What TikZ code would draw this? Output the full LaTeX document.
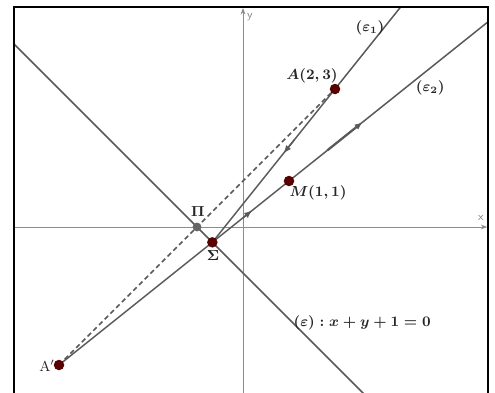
\documentclass[tikz,border=0pt]{standalone}
\usetikzlibrary{arrows.meta,calc}
\begin{document}
\begin{tikzpicture}[x=1cm,y=1cm,
  ln/.style={draw=black!65, line width=0.9pt},
  ax/.style={draw=black!45, line width=0.5pt},
  pt/.style={circle, fill=red!35!black, inner sep=0pt, minimum size=6.5pt},
  gpt/.style={circle, fill=black!60, inner sep=0pt, minimum size=5.5pt},
  lab/.style={font=\small\boldmath, text=black!85, inner sep=1pt},
  axlab/.style={font=\scriptsize\sffamily, text=black!50, inner sep=0pt},
  mid/.style={ln, -{Latex[length=5pt,width=4pt]}}]
\useasboundingbox (-5.283,-3.587) rectangle (5.478,4.935);
\coordinate (A) at (2,3);
\coordinate (M) at (1,1);
\coordinate (S) at (-0.6667,-0.3333);
\coordinate (Ap) at (-4,-3);
\coordinate (P) at (-1,0);
\coordinate (FL) at (-4.978,-3.6);
\coordinate (FR) at (5.326,4.783);
\begin{scope}
\clip (FL) rectangle (FR);
\draw[ax,-{Stealth[length=4pt,width=3pt]}] (-5,0) coordinate (xl) -- (5.31,0) coordinate (xr);
\draw[ax,-{Stealth[length=4pt,width=3pt]}] (0,-3.6) coordinate (yb) -- (0,4.76) coordinate (yt);
\draw[ln] (-5,4) coordinate (e1) -- (3,-4) coordinate (e2);
\draw[ln] (S) -- ($(S)!3!(A)$);
\draw[ln] (S) -- ($(S)!4!(M)$);
\draw[ln] (Ap) -- (S);
\draw[ln, dashed, dash pattern=on 3pt off 2pt] (Ap) -- (A);
\draw[mid] ($(A)!0.33!(S)$) -- ($(A)!0.42!(S)$);
\draw[mid] ($(S)!0.40!(M)$) -- ($(S)!0.52!(M)$);
\draw[ln, line width=1.4pt, -{Latex[length=5pt,width=4pt]}] ($(S)!1.5!(M)$) -- ($(S)!1.96!(M)$);
\end{scope}
\draw[line width=1.3pt] (FL) |- (FR) -- (FR |- FL);
\node[pt] (nA) at (A) {};
\node[pt] (nM) at (M) {};
\node[pt] (nS) at (S) {};
\node[pt] (nAp) at (Ap) {};
\node[gpt] (nP) at (P) {};
\node[lab] (lA) at (1.5,3.28) {$A(2,3)$};
\node[lab] (lM) at (1.63,0.74) {$M(1,1)$};
\node[lab] (lP) at (-0.98,0.33) {$\Pi$};
\node[lab] (lS) at (-0.65,-0.63) {$\Sigma$};
\node[lab, font=\small] (lAp) at (-4.26,-3.02) {A$'$};
\node[lab] (le1) at (2.76,4.33) {$(\varepsilon_1)$};
\node[lab] (le2) at (4.07,3.02) {$(\varepsilon_2)$};
\node[lab] (le) at (2.59,-2.09) {$(\varepsilon) : x+y+1=0$};
\node[axlab] (ly) at (0.15,4.57) {y};
\node[axlab] (lx) at (5.17,0.2) {x};
\end{tikzpicture}
\end{document}
